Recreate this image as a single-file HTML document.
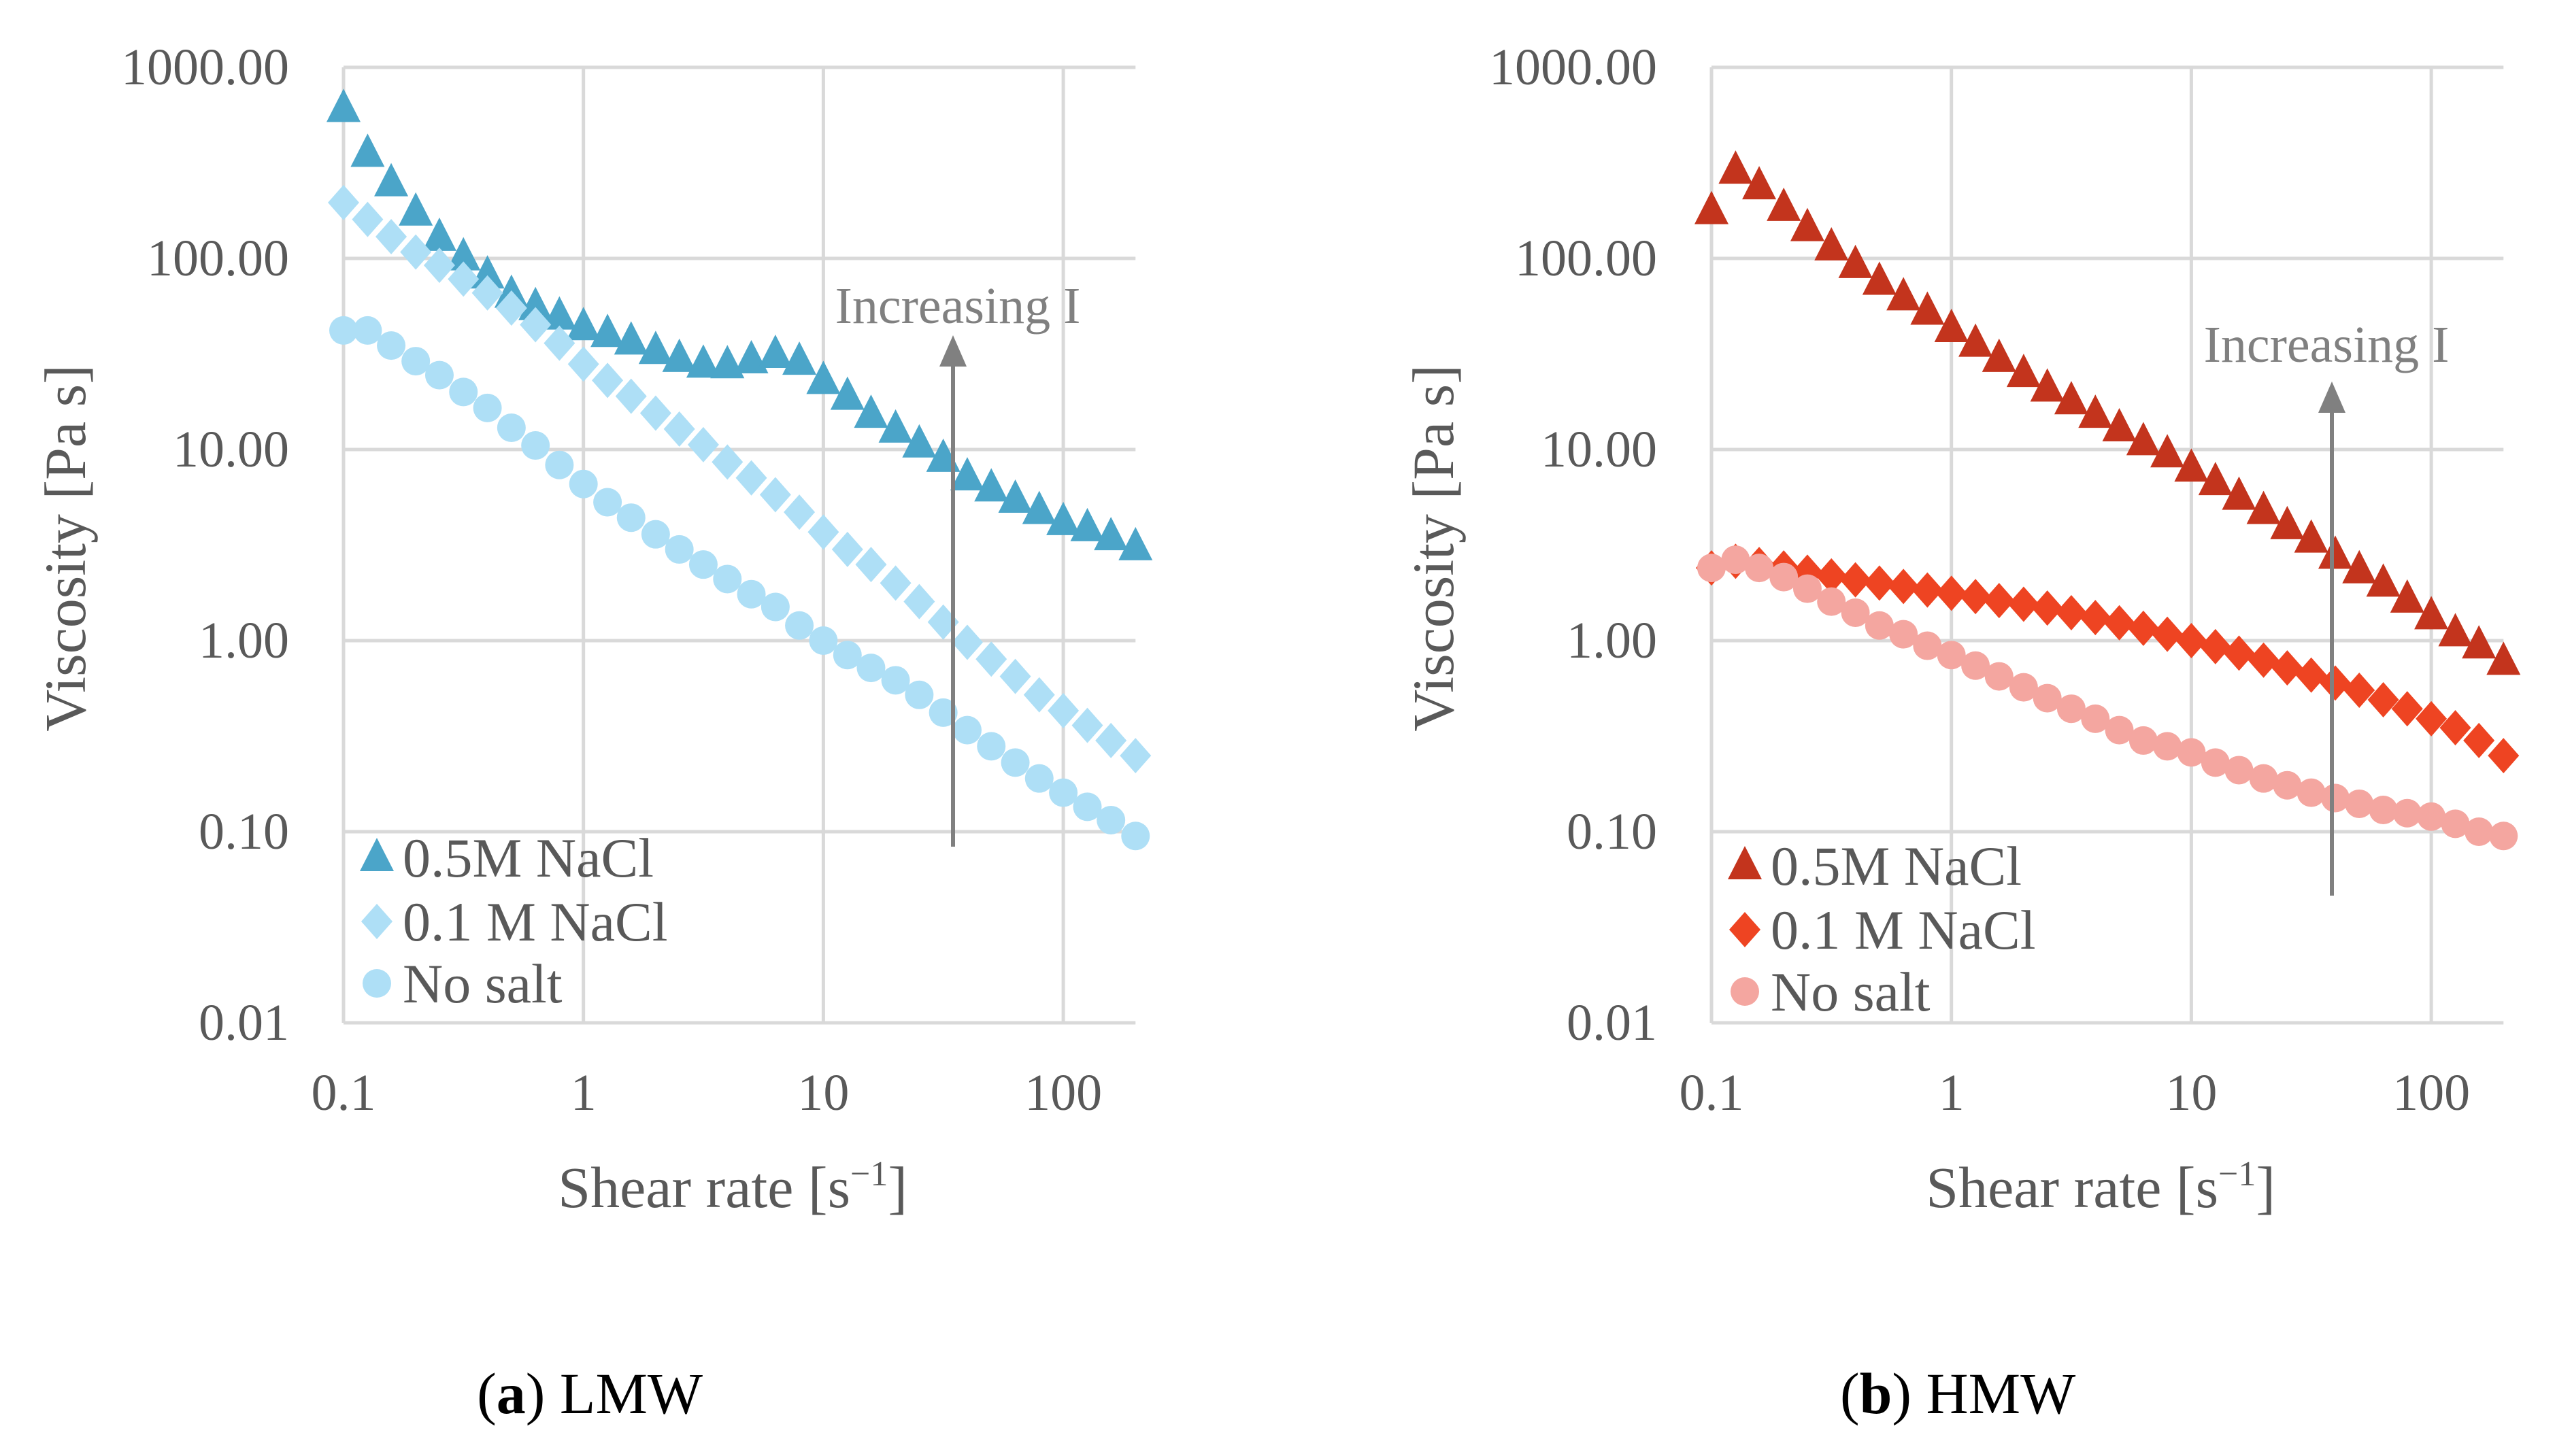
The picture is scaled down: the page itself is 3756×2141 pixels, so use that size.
<!DOCTYPE html>
<html><head><meta charset="utf-8"><style>
html,body{margin:0;padding:0;background:#fff;}
svg text{font-family:"Liberation Serif",serif;}
</style></head><body>
<svg width="3756" height="2136" viewBox="0 0 3756 2136" xmlns="http://www.w3.org/2000/svg">
<g id="root"></g>
</svg>
<script>
const shearRates = [0.1,0.126,0.158,0.2,0.251,0.316,0.398,0.501,0.631,0.794,1,1.26,1.58,2,2.51,3.16,3.98,5.01,6.31,7.94,10,12.6,15.8,20,25.1,31.6,39.8,50.1,63.1,79.4,100,126,158,200];
const lmw05 = [610,355,249,175,129,102,82,65,56,50,44,40.5,37,33,30,28,27.8,29.5,31.5,29,23,19,15.3,12.8,10.7,9.0,7.2,6.3,5.5,4.8,4.2,3.9,3.5,3.1];
const lmw01 = [196,160,130,108,92,78,66,55,45,36,28,23,19,15.5,12.8,10.6,8.6,7.1,5.8,4.7,3.7,3.0,2.5,2.0,1.6,1.25,0.98,0.8,0.65,0.52,0.43,0.36,0.3,0.25];
const lmwNo = [42,42,35,29,24.5,20,16.5,13,10.5,8.3,6.6,5.3,4.4,3.6,3.0,2.5,2.1,1.75,1.5,1.2,1.0,0.84,0.72,0.62,0.52,0.42,0.34,0.28,0.23,0.19,0.16,0.135,0.115,0.095];
const hmw05 = [178,290,240,185,145,115,93,76,63,53,43,36,30,25,21,18,15.3,13,11,9.5,8.0,6.8,5.7,4.8,4.0,3.4,2.8,2.35,2.0,1.65,1.35,1.1,0.95,0.78];
const hmw01 = [2.4,2.6,2.5,2.4,2.28,2.18,2.08,2.0,1.92,1.84,1.77,1.7,1.62,1.55,1.48,1.4,1.32,1.24,1.16,1.08,1.0,0.93,0.86,0.79,0.72,0.66,0.6,0.55,0.49,0.44,0.39,0.35,0.3,0.25];
const hmwNo = [2.4,2.65,2.4,2.15,1.87,1.6,1.4,1.2,1.08,0.94,0.84,0.74,0.65,0.57,0.5,0.44,0.39,0.34,0.3,0.28,0.26,0.23,0.21,0.19,0.175,0.16,0.15,0.14,0.13,0.125,0.12,0.11,0.1,0.095];
const yTicks = [1000,100,10,1,0.1,0.01];
const yTickLabels = ["1000.00","100.00","10.00","1.00","0.10","0.01"];
const xTicks = [0.1,1,10,100];
const xTickLabels = ["0.1","1","10","100"];
const legendLabels = ["0.5M NaCl","0.1 M NaCl","No salt"];

const NS="http://www.w3.org/2000/svg";
const root=document.getElementById('root');
const DEC=352.7, YDEC=281, YTOP=99, XMAX=200;
function mk(tag,attrs,parent){const e=document.createElementNS(NS,tag);for(const k in attrs)e.setAttribute(k,attrs[k]);(parent||root).appendChild(e);return e;}
function xs(x0,v){return x0+Math.log10(v/0.1)*DEC;}
function ys(v){return YTOP+(3-Math.log10(v))*YDEC;}
function marker(g,type,cx,cy,color){
  let e;
  if(type==='tri'){e=mk('polygon',{points:`${cx},${cy-29} ${cx+25},${cy+20} ${cx-25},${cy+20}`,fill:color},g);}
  else if(type==='dia'){e=mk('polygon',{points:`${cx},${cy-26} ${cx+23},${cy} ${cx},${cy+26} ${cx-23},${cy}`,fill:color},g);}
  else {e=mk('circle',{cx:cx,cy:cy,r:21,fill:color},g);}
  return e;
}
function panel(x0,name,series,legendDy,inc,caption,capBold){
  const g=mk('g',{});
  
  
  const xr=xs(x0,XMAX), yb=ys(0.01);
  yTicks.forEach((t,i)=>{
    const l=mk('line',{x1:x0,x2:xr,y1:ys(t),y2:ys(t),stroke:'#d9d9d9','stroke-width':5},g);
    
    
    const tx=mk('text',{x:x0-80,y:ys(t)+25,'text-anchor':'end','font-size':76,fill:'#595959'},g);
    
    
    tx.textContent=yTickLabels[i];
  });
  xTicks.forEach((t,i)=>{
    const l=mk('line',{x1:xs(x0,t),x2:xs(x0,t),y1:YTOP,y2:yb,stroke:'#d9d9d9','stroke-width':5},g);
    
    
    const tx=mk('text',{x:xs(x0,t),y:1632,'text-anchor':'middle','font-size':76,fill:'#595959'},g);
    
    
    tx.textContent=xTickLabels[i];
  });
  series.forEach((s,si)=>{
    const sg=mk('g',{},g);
    
    
    s.vals.forEach((v,i)=>{
      const m=marker(sg,s.type,xs(x0,shearRates[i]),ys(v),s.color);
      
      
    });
    const ly=[1273,1367,1458][si]+legendDy;
    const lm=marker(g,s.type,x0+49,ly,s.color);
    
    
    const lt=mk('text',{x:x0+87,y:ly+28,'font-size':82,fill:'#595959'},g);
    
    
    lt.textContent=legendLabels[si];
  });
  const ax=inc.x;
  const al=mk('line',{x1:ax,x2:ax,y1:inc.y1,y2:inc.y2+40,stroke:'#808080','stroke-width':6},g);
  
  
  const ah=mk('polygon',{points:`${ax},${inc.y2} ${ax+20},${inc.y2+46} ${ax-20},${inc.y2+46}`,fill:'#808080'},g);
  
  
  const it=mk('text',{x:inc.tx,y:inc.ty,'text-anchor':'middle','font-size':76,fill:'#808080'},g);
  
  
  it.textContent='Increasing I';
  const xt=mk('text',{x:(x0+xr)/2-10,y:1775,'text-anchor':'middle','font-size':86,fill:'#595959'},g);
  
  
  xt.innerHTML='Shear rate [s<tspan dy="-32" font-size="52">−1</tspan><tspan dy="32">]</tspan>';
  const yt=mk('text',{x:0,y:0,'text-anchor':'middle','font-size':86,fill:'#595959',transform:`translate(${x0-380},806) rotate(-90)`},g);
  
  
  yt.textContent='Viscosity [Pa s]';
  const cp=mk('text',{x:(x0+xr)/2-220,y:2078,'text-anchor':'middle','font-size':86,fill:'#000'},g);
  
  
  cp.innerHTML='(<tspan font-weight="bold">'+capBold+'</tspan>) '+caption;
}
panel(505,'lmw',[
  {key:'lmw-0-5m',type:'tri',color:'#4BA5C9',vals:lmw05},
  {key:'lmw-0-1m',type:'dia',color:'#AEDFF6',vals:lmw01},
  {key:'lmw-no-salt',type:'cir',color:'#AEDFF6',vals:lmwNo}],-12,
  {x:1401,y1:1245,y2:493,tx:1408,ty:475},'LMW','a');
panel(2516,'hmw',[
  {key:'hmw-0-5m',type:'tri',color:'#C3341D',vals:hmw05},
  {key:'hmw-0-1m',type:'dia',color:'#EE4422',vals:hmw01},
  {key:'hmw-no-salt',type:'cir',color:'#F4A6A0',vals:hmwNo}],0,
  {x:3428,y1:1317,y2:561,tx:3420,ty:532},'HMW','b');
</script>
</body></html>
